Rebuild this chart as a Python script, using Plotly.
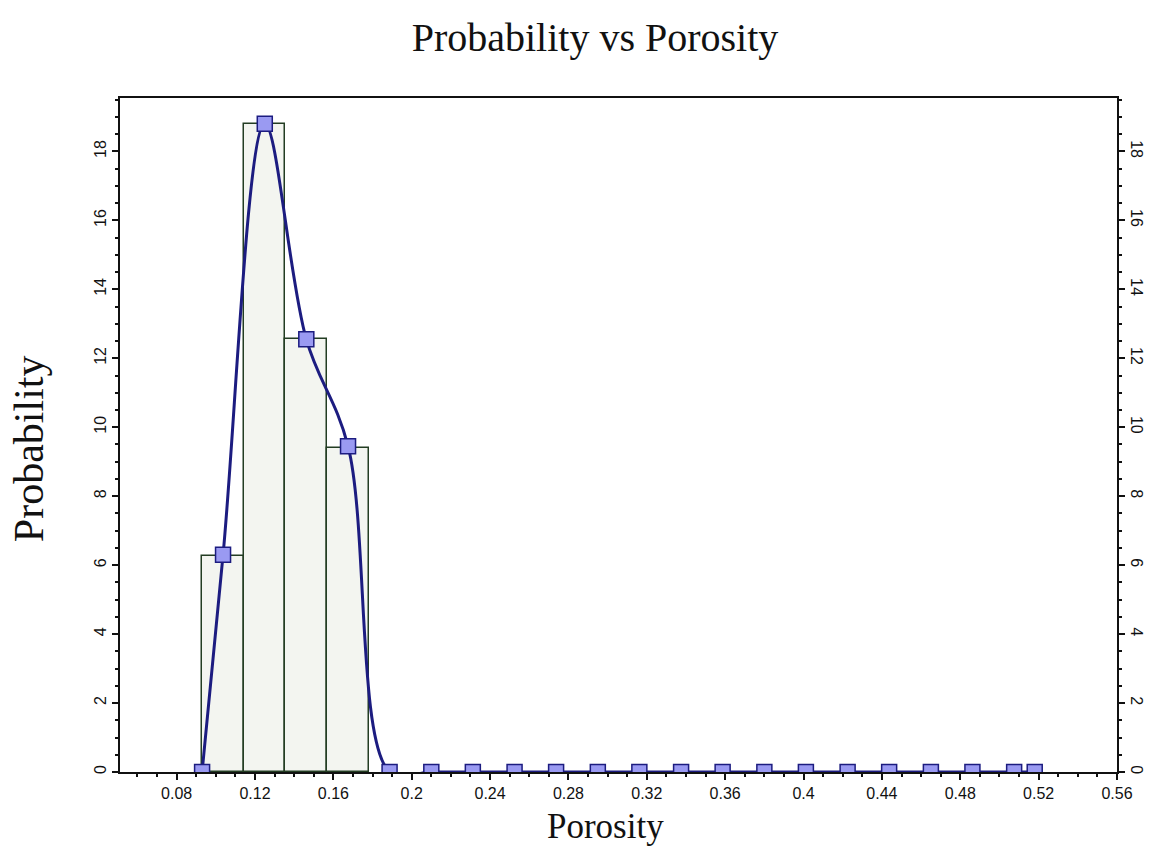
import plotly.graph_objects as go

# Histogram bins (left edge, width) and heights
bar_left = [0.0930, 0.11425, 0.1355, 0.15675]
bar_width = 0.02125
bar_height = [6.27, 18.8, 12.55, 9.41]

# Smoothed curve nodes (markers)
curve_x = [0.0930, 0.1037, 0.1250, 0.1462, 0.1675, 0.1887, 0.2100, 0.2312,
           0.2525, 0.2737, 0.2950, 0.3162, 0.3375, 0.3587, 0.3800, 0.4012,
           0.4225, 0.4437, 0.4650, 0.4862, 0.5075, 0.5180]
curve_y = [0.0, 6.3, 18.8, 12.55, 9.45, 0.0, 0.0, 0.0,
           0.0, 0.0, 0.0, 0.0, 0.0, 0.0, 0.0, 0.0,
           0.0, 0.0, 0.0, 0.0, 0.0, 0.0]

x_ticks = [0.08, 0.12, 0.16, 0.2, 0.24, 0.28, 0.32, 0.36, 0.4, 0.44, 0.48, 0.52, 0.56]
x_tick_text = ["0.08", "0.12", "0.16", "0.2", "0.24", "0.28", "0.32", "0.36", "0.4", "0.44", "0.48", "0.52", "0.56"]
y_ticks = [0, 2, 4, 6, 8, 10, 12, 14, 16, 18]

bar_centers = [l + bar_width / 2 for l in bar_left]

fig = go.Figure()
fig.add_trace(go.Bar(
    x=bar_centers, y=bar_height, width=[bar_width] * len(bar_left),
    marker=dict(color="#f3f5f0", line=dict(color="#233d23", width=1.5)),
    showlegend=False, hoverinfo="skip"))
fig.add_trace(go.Scatter(
    x=curve_x, y=curve_y, mode="lines+markers",
    line=dict(color="#1c1c80", width=3, shape="spline", smoothing=1.0),
    marker=dict(symbol="square", size=15, color="#9a9af2",
                line=dict(color="#1c1c80", width=1.5)),
    showlegend=False))
# invisible trace to activate the right axis
fig.add_trace(go.Scatter(x=[curve_x[0]], y=[0], yaxis="y2", mode="markers",
                         marker=dict(opacity=0), showlegend=False, hoverinfo="skip"))

W, H = 1157, 850
tickfont = dict(family="Liberation Sans, Arial", size=16, color="#111")
serif = "Liberation Serif, Times New Roman, serif"
fig.update_layout(
    width=W, height=H,
    margin=dict(l=120, r=27, t=98, b=78),
    paper_bgcolor="white", plot_bgcolor="white",
    bargap=0,
    title=dict(text="Probability vs Porosity", x=595 / W, xanchor="center",
               xref="container", y=1 - 37 / H, yanchor="middle", yref="container",
               font=dict(family=serif, size=40, color="#111")),
    xaxis=dict(range=[0.0511, 0.56], tickvals=x_ticks, ticktext=x_tick_text,
               ticks="outside", ticklen=6, tickwidth=1.5, tickcolor="#111",
               showline=True, linecolor="#111", linewidth=2, mirror=True,
               showgrid=False, zeroline=False, tickfont=tickfont,
               minor=dict(dtick=0.01, ticks="outside", ticklen=3, tickcolor="#111")),
    yaxis=dict(range=[0, 19.55], tickvals=y_ticks, tickangle=-90,
               ticks="outside", ticklen=6, tickwidth=1.5, tickcolor="#111",
               showline=True, linecolor="#111", linewidth=2,
               showgrid=False, zeroline=False, tickfont=tickfont,
               minor=dict(dtick=0.5, ticks="outside", ticklen=3, tickcolor="#111")),
    yaxis2=dict(range=[0, 19.55], tickvals=y_ticks, tickangle=90, overlaying="y",
                side="right", matches="y",
                ticks="outside", ticklen=6, tickwidth=1.5, tickcolor="#111",
                showline=True, linecolor="#111", linewidth=2,
                showgrid=False, zeroline=False, tickfont=tickfont,
                minor=dict(dtick=0.5, ticks="outside", ticklen=3, tickcolor="#111")),
    annotations=[
        dict(text="Porosity", xref="paper", yref="paper",
             x=(612 - 120) / (W - 120 - 27), y=-(826 - 772) / (772 - 98),
             xanchor="center", yanchor="middle", showarrow=False,
             font=dict(family=serif, size=35, color="#111")),
        dict(text="Probability", xref="paper", yref="paper",
             x=-(120 - 28) / (W - 120 - 27), y=(772 - 449) / (772 - 98),
             xanchor="center", yanchor="middle", textangle=-90, showarrow=False,
             font=dict(family=serif, size=42, color="#111")),
    ],
)
fig.write_html("out.html")
